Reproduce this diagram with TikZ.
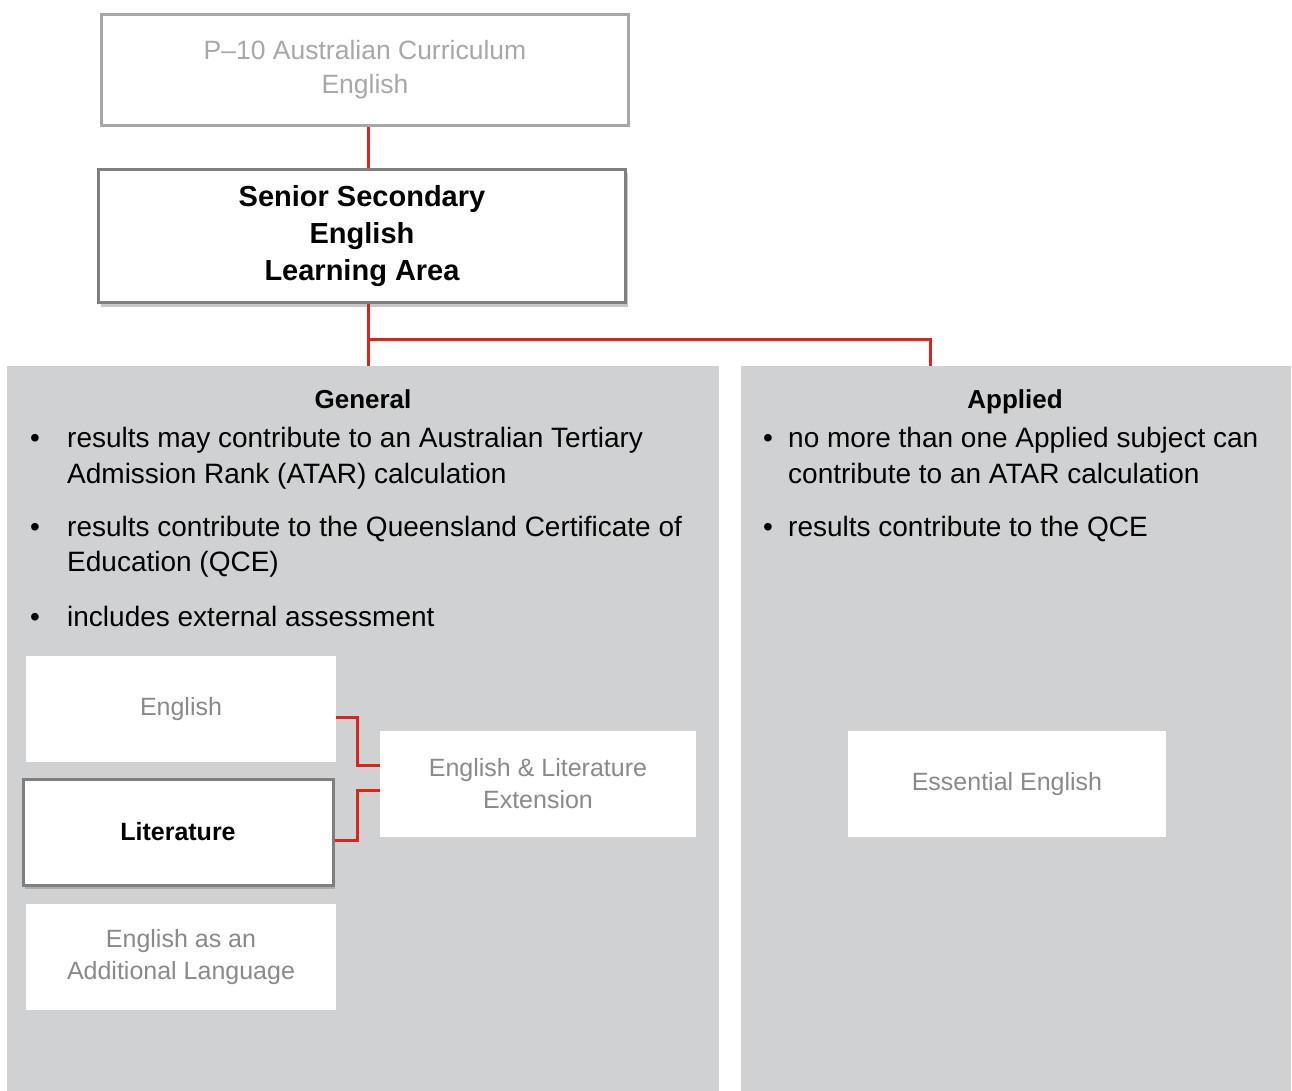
\documentclass[tikz,border=0pt]{standalone}
\usepackage{fontspec}
\setmainfont{Liberation Sans}
\usetikzlibrary{shadows}
\definecolor{panel}{HTML}{D0D1D3}
\definecolor{redline}{HTML}{D9261C}
\definecolor{lightbd}{HTML}{A6A6A6}
\definecolor{darkbd}{HTML}{7F7F7F}
\definecolor{lighttxt}{HTML}{A8A8A8}
\definecolor{midtxt}{HTML}{8A8A8A}
\tikzset{
  conn/.style={draw=redline, line width=3pt},
  subbox/.style={fill=white, draw=none, minimum width=310pt, minimum height=106pt, inner sep=0pt, text=midtxt, align=center, font=\fontsize{25}{32}\selectfont},
  bodytxt/.style={anchor=base west, inner sep=0pt, font=\fontsize{28}{35}\selectfont},
  bul/.style={anchor=base, inner sep=0pt, font=\fontsize{28}{35}\selectfont},
  head/.style={anchor=base, inner sep=0pt, font=\fontsize{26}{32}\selectfont\bfseries},
  shad/.style={drop shadow={shadow xshift=2pt, shadow yshift=-4pt, opacity=0.45, fill=gray}},
}
\begin{document}
\begin{tikzpicture}[x=1pt,y=-1pt]
\useasboundingbox (0,0) rectangle (1292,1091);
% panels
\fill[panel] (7,366) rectangle (719,1091);
\fill[panel] (741,366) rectangle (1291,1091);
% top boxes
\node[draw=lightbd, line width=3pt, fill=white, minimum width=527pt, minimum height=111pt, inner sep=0pt, text=lighttxt, align=center, font=\fontsize{26.5}{34}\selectfont] (p10) at (365,70) {\raisebox{-2pt}{P–10 Australian Curriculum}\\\raisebox{-2pt}{English}};
\node[draw=darkbd, line width=3pt, fill=white, minimum width=527pt, minimum height=133pt, inner sep=0pt, align=center, font=\fontsize{29}{37}\selectfont\bfseries, shad] (senior) at (362,236) {Senior Secondary\\English\\Learning Area};
% connectors top
\coordinate (gtop) at (368,366);
\coordinate (atop) at (930,366);
\coordinate (split) at (368,339);
\draw[conn] (p10.south -| gtop) -- (senior.north -| gtop);
\draw[conn] (senior.south -| gtop) -- (gtop);
\draw[conn] (split) -- (930,339) -- (atop);
% headers
\node[head] (general) at (363,408) {General};
\node[head] (applied) at (1015,408) {Applied};
% General bullets
\node[bul] (gb1) at (35,447) {\textbullet};
\node[bodytxt] (g1a) at (67,447) {results may contribute to an Australian Tertiary};
\node[bodytxt] (g1b) at (67,483) {Admission Rank (ATAR) calculation};
\node[bul] (gb2) at (35,536) {\textbullet};
\node[bodytxt] (g2a) at (67,536) {results contribute to the Queensland Certificate of};
\node[bodytxt] (g2b) at (67,571) {Education (QCE)};
\node[bul] (gb3) at (35,626) {\textbullet};
\node[bodytxt] (g3a) at (67,626) {includes external assessment};
% Applied bullets
\node[bul] (ab1) at (768,447) {\textbullet};
\node[bodytxt] (a1a) at (788,447) {no more than one Applied subject can};
\node[bodytxt] (a1b) at (788,483) {contribute to an ATAR calculation};
\node[bul] (ab2) at (768,536) {\textbullet};
\node[bodytxt] (a2a) at (788,536) {results contribute to the QCE};
% sub boxes
\node[subbox] (eng) at (181,709) {\raisebox{-2pt}{English}};
\node[subbox, draw=darkbd, line width=3pt, text=black, font=\fontsize{25}{32}\selectfont\bfseries, shad] (lit) at (178,832) {Literature};
\node[subbox] (eal) at (181,957) {\raisebox{-2pt}{English as an}\\\raisebox{-2pt}{Additional Language}};
\node[subbox, minimum width=316pt] (ext) at (538,784) {English \& Literature\\Extension};
\node[subbox, minimum width=318pt] (ess) at (1007,784) {\raisebox{-1pt}{Essential English}};
% sub connectors
\draw[conn] (eng.east |- 0,717) -| (357,765) -- (ext.west |- 0,765);
\draw[conn] (lit.east |- 0,840) -| (357,790) -- (ext.west |- 0,790);
\end{tikzpicture}
\end{document}
